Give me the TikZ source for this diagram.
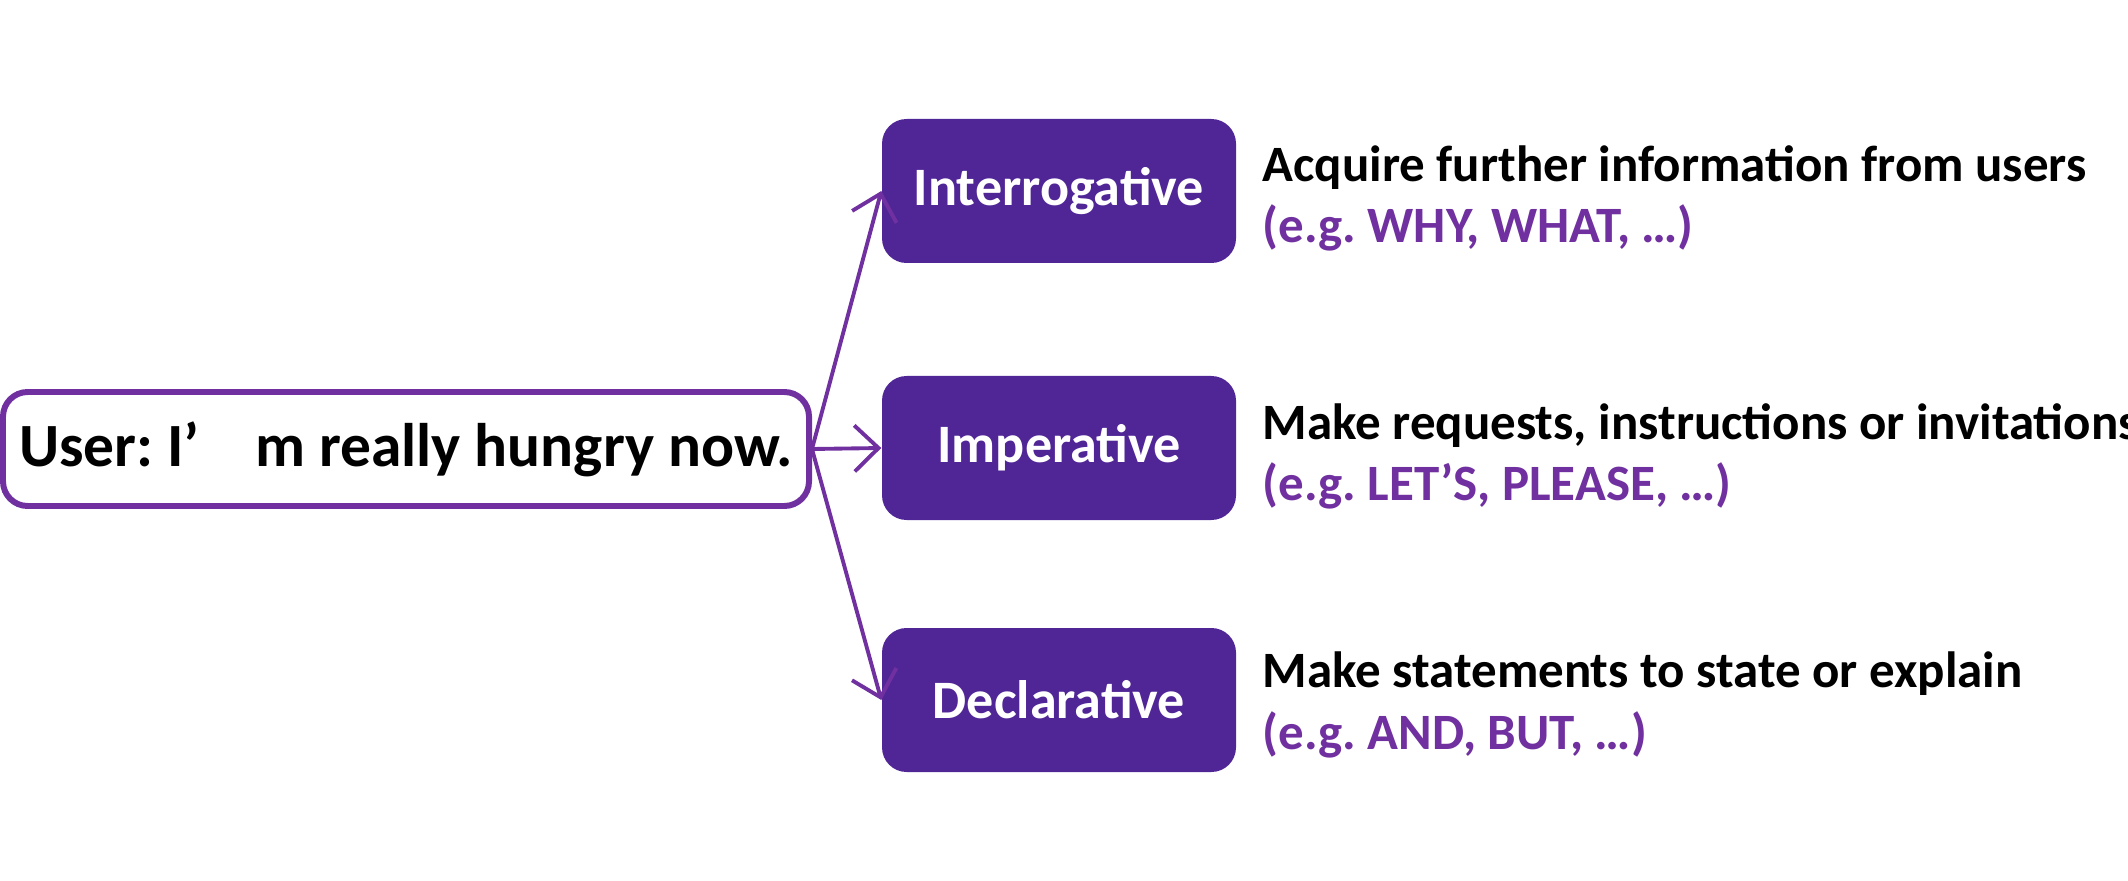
\documentclass[tikz,border=0pt]{standalone}
\usepackage{fontspec}
\setmainfont{Carlito}
\usepackage{xcolor}
\usepackage{tikz}
\usetikzlibrary{positioning, arrows.meta}

\definecolor{boxpurple}{HTML}{502696}
\definecolor{linepurple}{HTML}{7030A0}
\frenchspacing

\begin{document}
\begin{tikzpicture}[
  font=\bfseries,
  utter/.style={draw=linepurple, line width=1.7pt, rounded corners=7pt, fill=white,
                minimum width=8.06cm, minimum height=1.14cm, inner sep=0pt,
                font=\fontsize{17.5}{20}\selectfont\bfseries},
  mood/.style={fill=boxpurple, text=white, rounded corners=7pt, inner sep=0pt,
               minimum width=3.54cm, minimum height=1.44cm,
               font=\fontsize{15.4}{18}\selectfont\bfseries},
  gloss/.style={anchor=west, align=left, inner sep=0pt,
                font=\fontsize{14.5}{17.4}\selectfont\bfseries},
  arrow/.style={-{Straight Barb[length=2.4mm, width=4.6mm]}, draw=linepurple, line width=1.1pt}
]
\useasboundingbox (0,0) rectangle (21.28,8.80);

% ── Utterance ─────────────────────────────────────────────
\node[utter] (user) at (4.06,4.31) {User: I’\hspace{0.9em}m really hungry now.};

% ── Sentence moods ────────────────────────────────────────
\node[mood] (inter) at (10.59,6.89) {Interrogative};
\node[mood] (imper) at (10.59,4.32) {Imperative};
\node[mood] (decl)  at (10.59,1.80) {Declarative};

% ── Descriptions ──────────────────────────────────────────
\node[gloss] (interdesc) at (12.62,6.82) {Acquire further information from users\\
  \textcolor{linepurple}{(e.g. WHY, WHAT, …)}};
\node[gloss] (imperdesc) at (12.62,4.24) {Make requests, instructions or invitations\\
  \textcolor{linepurple}{(e.g. LET’S, PLEASE, …)}};
\node[gloss] (decldesc)  at (12.62,1.75) {Make statements to state or explain\\
  \textcolor{linepurple}{(e.g. AND, BUT, …)}};

% ── Arrows ────────────────────────────────────────────────
\draw[arrow] (user.east) -- (inter.west);
\draw[arrow] (user.east) -- (imper.west);
\draw[arrow] (user.east) -- (decl.west);

\end{tikzpicture}
\end{document}
